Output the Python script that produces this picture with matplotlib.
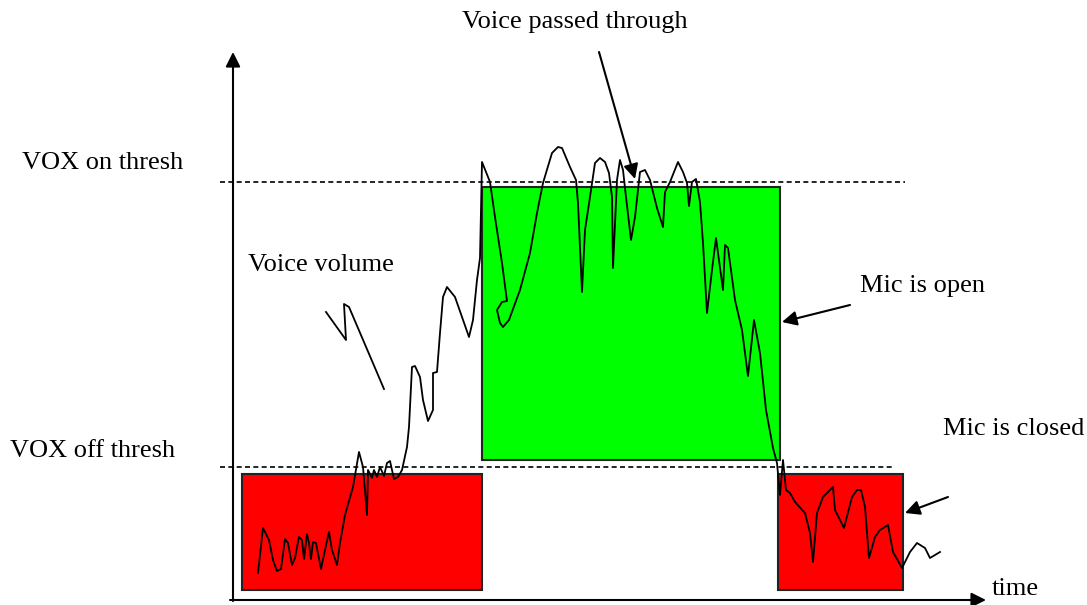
"""VOX gating diagram: voice volume against on/off thresholds."""

import matplotlib.pyplot as plt
from matplotlib.patches import Rectangle

# diagram drawn in pixel coordinates (y grows downward)
wave_x = [258, 263, 269, 273, 277, 281, 285, 288, 292, 295, 299, 302, 304, 307, 309, 311,
          313, 316, 321, 325, 329, 332, 337, 340, 345, 353, 359, 363, 367, 368, 372, 374,
          377, 380, 384, 387, 390, 394, 398, 402, 407, 409, 412, 415, 420, 423, 428, 433,
          433, 437, 440, 443, 447, 455, 462, 469, 473, 477, 480, 482, 490, 495, 502, 507,
          502, 497, 500, 503, 509, 520, 530, 537, 543, 552, 558, 562, 570, 576, 578, 582,
          585, 590, 595, 600, 605, 609, 612, 613, 617, 620, 623, 626, 631, 635, 640, 645,
          650, 657, 663, 665, 670, 678, 683, 687, 689, 692, 696, 700, 703, 707, 712, 716,
          719, 723, 725, 728, 735, 742, 748, 754, 760, 766, 773, 777, 780, 783, 786, 790,
          795, 805, 810, 813, 817, 823, 833, 835, 844, 852, 857, 861, 865, 869, 875, 880,
          888, 893, 902, 910, 917, 925, 930, 940]
wave_y = [573, 528, 540, 560, 571, 569, 539, 543, 565, 558, 537, 540, 559, 534, 543, 559,
          542, 543, 569, 550, 532, 550, 565, 543, 515, 487, 452, 467, 515, 470, 478, 470,
          477, 467, 476, 463, 461, 479, 477, 470, 447, 427, 367, 366, 377, 400, 421, 410,
          373, 372, 333, 297, 287, 297, 317, 337, 320, 280, 258, 162, 182, 217, 263, 301,
          302, 310, 323, 327, 320, 290, 253, 213, 183, 153, 147, 148, 167, 180, 203, 292,
          230, 197, 163, 158, 162, 173, 197, 268, 180, 160, 170, 197, 240, 217, 172, 170,
          180, 208, 227, 192, 182, 162, 172, 183, 206, 182, 179, 202, 243, 313, 270, 238,
          260, 290, 245, 248, 300, 330, 376, 320, 353, 410, 448, 463, 495, 460, 490, 493,
          502, 513, 533, 562, 513, 497, 487, 510, 528, 497, 490, 490, 507, 558, 537, 530,
          525, 552, 568, 552, 543, 548, 558, 552]

# stray stroke beside the "Voice volume" label
stroke_x = [326, 346, 344, 349, 384]
stroke_y = [312, 340, 304, 307, 389]

# gate boxes: (left, top, right, bottom, colour)
boxes = [
    (242, 474, 482, 590, "#ff0000"),
    (482, 187, 780, 460, "#00ff00"),
    (778, 474, 903, 590, "#ff0000"),
]

# thresholds: (y, x_start, x_end)
on_thresh = (182, 220, 905)
off_thresh = (467, 220, 892)

fig = plt.figure(figsize=(10.87, 6.05), dpi=100)
ax = fig.add_axes([0, 0, 1, 1])
ax.set_xlim(0, 1087)
ax.set_ylim(605, 0)
ax.axis("off")

for left, top, right, bottom, color in boxes:
    ax.add_patch(Rectangle((left, top), right - left, bottom - top,
                           facecolor=color, edgecolor="#222222", linewidth=1.5, zorder=1))

for y, x0, x1 in (on_thresh, off_thresh):
    ax.plot([x0, x1], [y, y], color="black", linewidth=1.2, linestyle=(0, (3, 2)), zorder=2)

ax.plot(wave_x, wave_y, color="black", linewidth=1.3, zorder=3)
ax.plot(stroke_x, stroke_y, color="black", linewidth=1.3, zorder=3)

arrow = dict(arrowstyle="-|>", color="black", linewidth=1.5, mutation_scale=22,
             shrinkA=0, shrinkB=0)
# axes
ax.annotate("", xy=(233, 52), xytext=(233, 601), arrowprops=arrow, zorder=4)
ax.annotate("", xy=(986, 600), xytext=(230, 600), arrowprops=arrow, zorder=4)
# callouts
ax.annotate("", xy=(635, 179), xytext=(599, 52), arrowprops=arrow, zorder=4)
ax.annotate("", xy=(782, 322), xytext=(850, 305), arrowprops=arrow, zorder=4)
ax.annotate("", xy=(905, 513), xytext=(948, 497), arrowprops=arrow, zorder=4)

font = dict(family="Liberation Serif", fontsize=19, color="black")
ax.text(575, 22, "Voice passed through", ha="center", va="center", **font)
ax.text(22, 163, "VOX on thresh", ha="left", va="center", **font)
ax.text(10, 451, "VOX off thresh", ha="left", va="center", **font)
ax.text(248, 265, "Voice volume", ha="left", va="center", **font)
ax.text(860, 286, "Mic is open", ha="left", va="center", **font)
ax.text(943, 429, "Mic is closed", ha="left", va="center", **font)
ax.text(992, 589, "time", ha="left", va="center", **font)

fig.savefig("out.png", dpi=100)
plt.close(fig)
